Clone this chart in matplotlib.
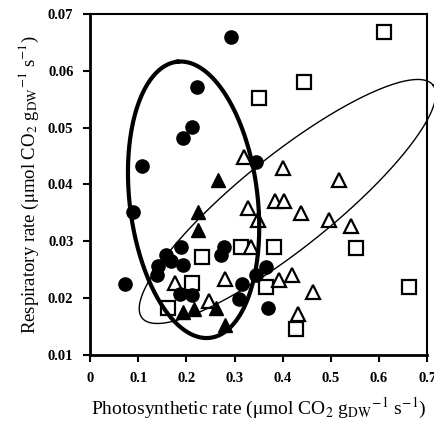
import matplotlib
matplotlib.use("Agg")
import matplotlib.pyplot as plt
import numpy as np

plt.rcParams["font.family"] = ["Liberation Serif", "DejaVu Serif"]
plt.rcParams["mathtext.fontset"] = "stix"

# ── data ─────────────────────────────────────────────────────────────────────
circ_x = [0.073, 0.090, 0.108, 0.139, 0.142, 0.158, 0.168, 0.188, 0.194, 0.187,
          0.212, 0.192, 0.212, 0.223, 0.292, 0.344, 0.271, 0.279, 0.316, 0.309,
          0.344, 0.365, 0.369]
circ_y = [0.0225, 0.0352, 0.0433, 0.0240, 0.0256, 0.0275, 0.0265, 0.0290, 0.0258, 0.0207,
          0.0205, 0.0482, 0.0501, 0.0572, 0.0660, 0.0440, 0.0275, 0.0290, 0.0224, 0.0198,
          0.0241, 0.0255, 0.0183]

ftri_x = [0.265, 0.225, 0.225, 0.194, 0.215, 0.262, 0.281]
ftri_y = [0.0408, 0.0352, 0.0320, 0.0176, 0.0180, 0.0183, 0.0153]

otri_x = [0.177, 0.246, 0.281, 0.319, 0.327, 0.348, 0.385, 0.402, 0.400, 0.437,
          0.517, 0.496, 0.542, 0.392, 0.420, 0.462, 0.431, 0.335]
otri_y = [0.0227, 0.0194, 0.0233, 0.0449, 0.0359, 0.0338, 0.0370, 0.0370, 0.0429, 0.0350,
          0.0408, 0.0338, 0.0326, 0.0232, 0.0240, 0.0211, 0.0172, 0.0290]

osq_x = [0.610, 0.444, 0.350, 0.233, 0.3125, 0.381, 0.552, 0.212, 0.1625, 0.662, 0.427, 0.365]
osq_y = [0.0668, 0.0580, 0.0552, 0.0273, 0.0290, 0.0290, 0.0289, 0.0227, 0.0183, 0.0220, 0.0145, 0.0220]

# ellipses: centre, major-axis offset, minor-axis offset (data units)
thick_ell = dict(c=(0.215, 0.0373), major=(-0.034, 0.0243), minor=(0.132, 0.0013))
thin_ell = dict(c=(0.410, 0.0370), major=(0.302, 0.0205), minor=(0.060, -0.0064))


def ellipse_xy(e, n=300):
    t = np.linspace(0, 2 * np.pi, n)
    x = e["c"][0] + e["major"][0] * np.cos(t) + e["minor"][0] * np.sin(t)
    y = e["c"][1] + e["major"][1] * np.cos(t) + e["minor"][1] * np.sin(t)
    return x, y


fig = plt.figure(figsize=(4.35, 4.24), dpi=100)
ax = fig.add_axes([0.207, 0.163, 0.775, 0.804])

ms = 9.5
ax.plot(osq_x, osq_y, "s", ms=ms, mfc="white", mec="black", mew=1.6, zorder=3)
ax.plot(otri_x, otri_y, "^", ms=ms + 0.5, mfc="white", mec="black", mew=1.6, zorder=3)
ax.plot(ftri_x, ftri_y, "^", ms=ms + 0.5, mfc="black", mec="black", zorder=4)
ax.plot(circ_x, circ_y, "o", ms=ms, mfc="black", mec="black", zorder=4)

x, y = ellipse_xy(thin_ell)
ax.plot(x, y, color="black", lw=1.0, clip_on=False, zorder=5)
x, y = ellipse_xy(thick_ell)
ax.plot(x, y, color="black", lw=3.0, zorder=5)

ax.set_xlim(0, 0.7)
ax.set_ylim(0.01, 0.07)
ax.set_xticks(np.arange(0, 0.71, 0.1))
ax.set_xticklabels(["0", "0.1", "0.2", "0.3", "0.4", "0.5", "0.6", "0.7"])
ax.set_yticks(np.arange(0.01, 0.0701, 0.01))
ax.set_yticklabels(["0.01", "0.02", "0.03", "0.04", "0.05", "0.06", "0.07"])
ax.tick_params(direction="out", length=5, width=1.5, labelsize=10.5, pad=7)
for lab in ax.get_xticklabels() + ax.get_yticklabels():
    lab.set_fontweight("bold")
for s in ("left", "bottom"):
    ax.spines[s].set_linewidth(2.0)
for s in ("top", "right"):
    ax.spines[s].set_linewidth(1.5)

ax.set_xlabel(r"Photosynthetic rate ($\mathrm{\mu}$mol CO$_2$ g$_{\rm DW}$$^{-1}$ s$^{-1}$)",
              fontsize=14, labelpad=8)
ax.set_ylabel(r"Respiratory rate ($\mathrm{\mu}$mol CO$_2$ g$_{\rm DW}$$^{-1}$ s$^{-1}$)",
              fontsize=13.5, labelpad=5)

fig.savefig("out.png", dpi=100)
